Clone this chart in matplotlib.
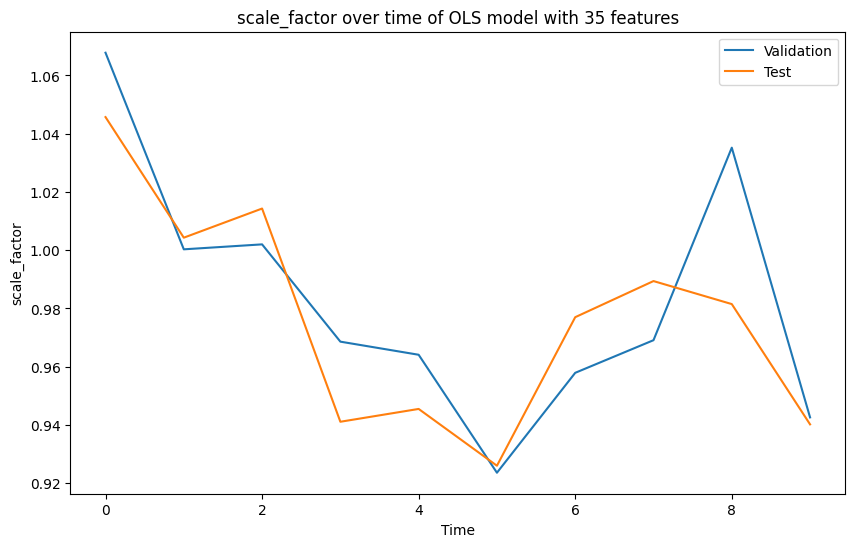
import matplotlib
matplotlib.use("Agg")
import matplotlib.pyplot as plt

time_steps = list(range(10))
validation = [1.0678, 1.0003, 1.0020, 0.9686, 0.9641, 0.9236, 0.9579, 0.9691, 1.0352, 0.9426]
test = [1.0457, 1.0043, 1.0143, 0.9411, 0.9455, 0.9260, 0.9770, 0.9894, 0.9815, 0.9402]

plt.figure(figsize=(10, 6))
plt.plot(time_steps, validation, label="Validation")
plt.plot(time_steps, test, label="Test")
plt.title("scale_factor over time of OLS model with 35 features")
plt.xlabel("Time")
plt.ylabel("scale_factor")
plt.legend()
plt.savefig("out.png", dpi=100, bbox_inches="tight")
